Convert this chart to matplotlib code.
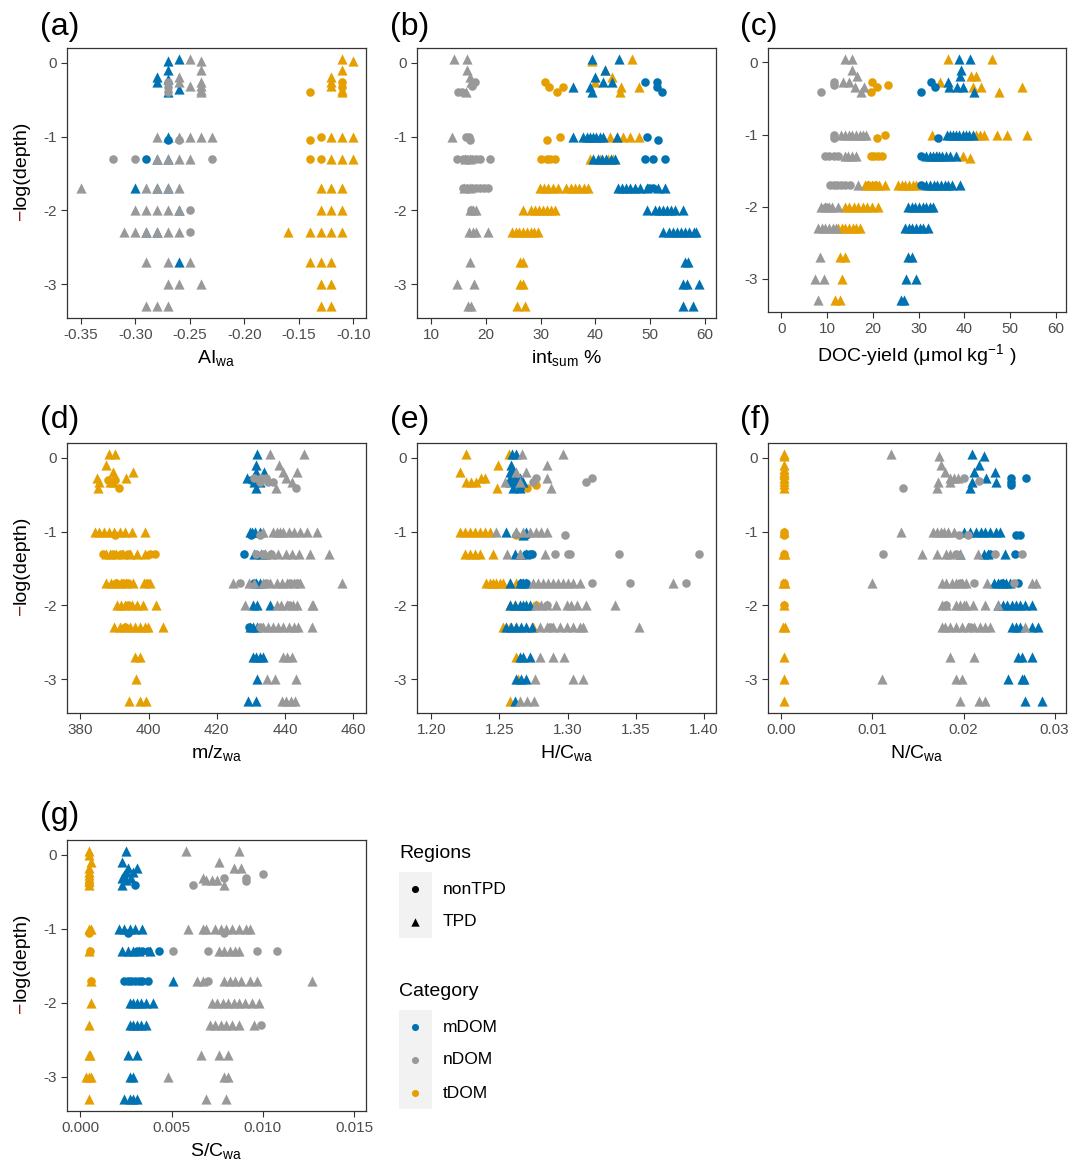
import matplotlib
matplotlib.use("Agg")
import matplotlib.pyplot as plt

plt.rcParams['font.family'] = ['Liberation Sans', 'DejaVu Sans']
plt.rcParams['mathtext.fontset'] = 'custom'
plt.rcParams['mathtext.rm'] = 'Liberation Sans'
plt.rcParams['mathtext.it'] = 'Liberation Sans:italic'
plt.rcParams['mathtext.default'] = 'regular'
plt.rcParams['axes.unicode_minus'] = False

# colours of the categories
BLUE = '#0072B2'
GRAY = '#999999'
ORANGE = '#E69F00'

# ---- data: {-log(depth): [x values]} per category / region ----
# (a) AI_wa
ai_m_tri = {0.02: [-0.27], 0.05: [-0.26], -0.1: [-0.27], -0.19: [-0.28], -0.22: [-0.27], -0.26: [-0.28],
            -0.35: [-0.26], -0.4: [-0.27], -1: [-0.27], -1.3: [-0.28, -0.27], -1.7: [-0.30, -0.28, -0.27],
            -2: [-0.26], -2.3: [-0.29, -0.28], -2.7: [-0.26]}
ai_m_circ = {-1.05: [-0.27], -1.3: [-0.29]}
ai_n_tri = {0.05: [-0.25], 0.02: [-0.24], -0.1: [-0.24], -0.19: [-0.26], -0.26: [-0.26, -0.24],
            -0.31: [-0.25, -0.24], -0.37: [-0.24], -0.4: [-0.24], -1: [-0.28, -0.26, -0.25, -0.24, -0.23],
            -1.3: [-0.28, -0.27, -0.26, -0.25], -1.7: [-0.35, -0.29, -0.28, -0.27, -0.26],
            -2: [-0.30, -0.29, -0.28, -0.27, -0.26], -2.3: [-0.31, -0.30, -0.29, -0.28, -0.27, -0.26],
            -2.7: [-0.29, -0.27, -0.25], -3: [-0.27, -0.26, -0.24], -3.3: [-0.29, -0.28, -0.27]}
ai_n_circ = {-0.26: [-0.27], -0.33: [-0.27], -0.4: [-0.27], -1.05: [-0.26], -1.3: [-0.32, -0.30, -0.23],
             -2: [-0.25], -2.3: [-0.25]}
ai_t_tri = {0.05: [-0.11], 0.02: [-0.10], -0.1: [-0.11], -0.19: [-0.12], -0.26: [-0.12], -0.31: [-0.12],
            -0.37: [-0.11], -0.4: [-0.11], -1: [-0.12, -0.11, -0.10], -1.3: [-0.12, -0.11, -0.10],
            -1.7: [-0.13, -0.12, -0.11], -2: [-0.13, -0.12, -0.11],
            -2.3: [-0.16, -0.14, -0.13, -0.12, -0.11], -2.7: [-0.14, -0.13, -0.12], -3: [-0.13, -0.12],
            -3.3: [-0.13, -0.12]}
ai_t_circ = {-0.26: [-0.11], -0.33: [-0.11], -0.4: [-0.14], -1.05: [-0.14], -1: [-0.13],
             -1.3: [-0.14, -0.13]}

# (b) int_sum %
int_m_tri = {0.05: [39.3, 44.4], -0.1: [41.7], -0.19: [40.0], -0.26: [41.4, 43.1], -0.33: [35.9, 39.0],
             -0.4: [39.3], -1: [35.9, 37.8, 38.4, 39.0, 39.6, 40.2, 40.8, 41.4, 43.9],
             -1.3: [39.6, 40.4, 41.2, 42.0, 42.8, 43.6],
             -1.7: [44.2, 44.9, 45.6, 46.4, 47.2, 48.2, 49.4, 51.5, 52.8],
             -2: [49.5, 50.9, 51.6, 52.3, 53.1, 53.8, 54.5, 56.1],
             -2.3: [52.4, 53.4, 54.2, 55.0, 55.7, 56.4, 57.2, 58.0, 58.5], -2.7: [56.4, 57.0],
             -3: [56.1, 56.7, 59.0], -3.3: [56.1, 57.9]}
int_m_circ = {-0.26: [49.0, 51.3], -0.33: [51.3], -0.4: [52.2], -1: [49.4], -1.05: [51.5],
              -1.3: [49.1, 50.6, 52.8], -1.7: [49.8, 50.6]}
int_n_tri = {0.05: [14.2, 16.6], -0.1: [16.6], -0.19: [17.0], -0.26: [17.3], -0.4: [16.4], -1: [13.8],
             -1.3: [16.2, 17.0], -1.7: [16.0, 17.0], -2: [17.0, 17.6, 18.2], -2.3: [16.9, 17.6, 18.2, 20.3],
             -2.7: [17.1], -3: [14.6, 17.8], -3.3: [16.7, 17.3]}
int_n_circ = {-0.26: [17.9], -0.31: [17.5], -0.4: [14.9, 15.6], -1: [16.4, 16.8], -1.05: [17.0],
              -1.3: [14.7, 15.8, 16.6, 17.4, 18.2, 18.9, 20.8],
              -1.7: [15.8, 16.6, 17.4, 18.2, 18.9, 19.6, 20.4], -2: [17.3]}
int_t_tri = {0.05: [46.7], 0.02: [39.3], -0.1: [41.7], -0.19: [43.1], -0.26: [40.0], -0.33: [44.7, 47.9],
             -0.4: [44.5], -1: [42.7, 43.9, 45.1, 46.3, 48.0], -1.3: [39.0, 40.8, 42.4, 43.2],
             -1.7: [29.8, 30.6, 31.4, 32.2, 33.2, 34.7, 35.5, 36.3, 37.1, 37.9, 38.7],
             -2: [26.8, 28.3, 29.0, 29.7, 30.4, 31.1, 31.8, 32.6],
             -2.3: [24.7, 25.4, 26.1, 26.8, 27.5, 28.2, 28.8, 29.5], -2.7: [26.3, 26.8],
             -3: [26.3, 26.8], -3.3: [25.6, 27.1]}
int_t_circ = {-0.26: [30.8], -0.33: [31.5, 34.1], -0.4: [32.9], -1: [33.5], -1.05: [31.2],
              -1.3: [30.0, 31.1, 31.7, 32.6]}

# (c) DOC-yield
doc_m_tri = {0.05: [38.8, 41.2], -0.1: [39.2], -0.19: [39.0], -0.27: [36.4], -0.34: [36.6, 38.3, 39.7],
             -0.41: [42.1], -1: [36.1, 36.8, 37.5, 38.2, 38.9, 39.6, 40.3, 41.0, 41.9],
             -1.3: [31.7, 32.4, 33.1, 33.8, 34.5, 35.2, 36.0, 36.8, 38.1],
             -1.7: [31.7, 32.5, 33.3, 34.1, 34.9, 35.7, 36.5, 37.3, 39.0],
             -2: [27.7, 28.5, 29.3, 30.1, 30.9, 31.7, 32.5, 33.2],
             -2.3: [27.0, 27.8, 28.6, 29.4, 30.2, 31.0, 32.1], -2.7: [27.7, 28.6], -3: [27.3, 29.5],
             -3.3: [26.2, 26.7]}
doc_m_circ = {-0.27: [32.8], -0.34: [33.5], -0.41: [30.5], -1.05: [34.3], -1.3: [30.6], -1.7: [30.5]}
doc_n_tri = {0.05: [14.0, 15.5], -0.1: [15.5], -0.19: [16.5], -0.27: [13.5, 14.8], -0.34: [16.0, 18.0],
             -0.41: [17.3], -1: [13.1, 13.9, 14.7, 15.5, 16.3, 17.1, 17.9, 18.6],
             -1.3: [13.8, 14.6, 15.4, 16.4], -1.7: [16.8], -2: [8.7, 9.5, 10.3, 11.1, 12.4],
             -2.3: [8.0, 8.8, 9.6, 10.4, 11.2, 12.0], -2.7: [8.5], -3: [7.3, 9.3], -3.3: [8.0]}
doc_n_circ = {-0.27: [11.4], -0.31: [11.4], -0.41: [8.6], -1: [11.4], -1.05: [11.4],
              -1.3: [9.5, 10.5, 11.4, 12.4], -1.7: [10.6, 11.4, 12.2, 13.0, 13.8, 14.9], -2: [9.8]}
doc_t_tri = {0.05: [36.3, 46.1], -0.19: [41.5, 42.6], -0.27: [34.6], -0.34: [41.9, 43.6, 52.6],
             -0.41: [47.5], -1: [33.0, 42.6, 43.4, 44.2, 47.2, 49.2, 53.6], -1.3: [34.0, 39.7],
             -1.33: [41.2],
             -1.7: [18.2, 19.0, 19.8, 20.6, 21.4, 22.6, 25.5, 26.3, 27.1, 27.9, 28.7, 29.5],
             -2: [13.8, 14.8, 15.8, 16.8, 17.8, 18.8, 19.8, 21.1],
             -2.3: [12.4, 13.2, 14.0, 14.8, 15.6, 16.4, 17.1], -2.7: [12.8, 13.8], -3: [13.3],
             -3.3: [11.7, 12.8]}
doc_t_circ = {-0.27: [19.8], -0.31: [23.2], -0.34: [20.9], -0.41: [19.5], -1.05: [20.8], -1: [22.6],
              -1.3: [19.5, 20.3, 21.1, 21.9], -1.7: [19.0, 20.5]}

# (d) m/z_wa
mz_m_tri = {0.05: [431.9], -0.1: [431.6], -0.19: [431.6, 433.8], -0.27: [428.7, 430.5],
            -0.33: [431.0, 432.6], -0.41: [431.6], -1: [429.7, 430.4, 431.2, 432.6],
            -1.3: [431.0, 432.8, 434.2], -1.7: [431.5, 432.5], -2: [430.7, 431.9, 435.5],
            -2.3: [429.7, 430.7, 431.8], -2.7: [430.7, 431.6, 432.5, 433.6], -3: [431.9],
            -3.3: [429.2, 431.6]}
mz_m_circ = {-0.3: [430.0], -1.05: [430.0], -1.3: [428.0], -1.7: [431.0], -2.3: [429.5]}
mz_n_tri = {0.05: [435.7, 445.6], -0.1: [438.2], -0.19: [439.5, 443.4], -0.27: [440.4], -0.33: [442.0],
            -0.41: [437.3],
            -1: [433.5, 436.5, 437.5, 438.5, 439.5, 441.0, 442.5, 444.5, 446.5, 449.2],
            -1.3: [434.0, 436.0, 438.0, 440.4, 442.0, 444.2, 447.3, 453.0],
            -1.7: [424.6, 429.5, 431.0, 433.5, 435.5, 437.5, 439.0, 440.5, 442.5, 444.4, 456.6],
            -2: [428.2, 437.5, 438.8, 440.5, 442.2, 443.5, 447.8, 448.3],
            -2.3: [433.5, 435.0, 436.5, 438.0, 439.5, 441.0, 442.5, 443.9, 447.8],
            -2.7: [439.3, 440.5, 442.0], -3: [434.6, 437.0, 443.1], -3.3: [439.0, 440.3, 441.6, 443.0]}
mz_n_circ = {-0.27: [431.0, 433.0, 434.5], -0.33: [432.5, 435.0, 436.5], -0.41: [443.2], -1.05: [432.6],
             -1.3: [431.5, 433.5, 436.0], -1.7: [426.7, 434.5, 441.5, 443.5], -2: [441.0],
             -2.3: [432.6]}
mz_t_tri = {0.05: [388.4, 390.1], -0.1: [387.4], -0.19: [389.6, 395.5], -0.27: [384.9, 393.5],
            -0.33: [385.5, 388.6, 389.5], -0.41: [385.2],
            -1: [384.2, 385.5, 387.0, 388.5, 390.0, 391.5, 393.0, 395.0, 398.9],
            -1.3: [387.6, 388.6, 390.5, 392.5, 394.5, 396.5, 399.0],
            -1.7: [387.6, 389.0, 390.5, 392.0, 393.5, 395.5, 398.7, 400.3],
            -2: [390.6, 391.8, 393.0, 395.0, 396.5, 398.4, 402.3],
            -2.3: [390.0, 391.5, 393.0, 394.5, 396.0, 397.5, 399.0, 399.9, 404.3],
            -2.7: [395.9, 397.4], -3: [396.2], -3.3: [394.3, 397.4, 399.2]}
mz_t_circ = {-0.3: [388.1, 390.1], -0.41: [391.3], -1.05: [390.1],
             -1.3: [386.5, 389.5, 392.0, 394.0, 400.5, 401.8], -1.7: [390.5, 392.5, 394.0, 399.5],
             -2: [394.0], -2.3: [393.0]}

# (e) H/C_wa
hc_m_tri = {0.05: [1.2595, 1.2619], -0.1: [1.2588], -0.19: [1.2575, 1.26], -0.27: [1.2575, 1.2612, 1.2649],
            -0.33: [1.2575, 1.262, 1.2673], -0.41: [1.26, 1.2649], -1: [1.2551, 1.2624, 1.2698],
            -1.05: [1.2673], -1.3: [1.2612, 1.2649, 1.2698], -1.7: [1.2575, 1.2649, 1.2673, 1.2698],
            -2: [1.2575, 1.2612, 1.2649, 1.2673, 1.2698, 1.2722],
            -2.3: [1.2551, 1.2588, 1.2624, 1.2661, 1.2698, 1.2735], -2.7: [1.2649, 1.2673, 1.2722],
            -3: [1.2624, 1.2661, 1.2698], -3.3: [1.2612]}
hc_m_circ = {-0.41: [1.2649], -1.05: [1.2698], -1.3: [1.2698, 1.2722, 1.2735], -1.7: [1.2661, 1.2698]}
hc_n_tri = {0.05: [1.2668, 1.2967], -0.1: [1.2845], -0.19: [1.262, 1.2698], -0.27: [1.2845],
            -0.33: [1.2539, 1.2649], -0.41: [1.2881],
            -1: [1.2477, 1.2624, 1.2673, 1.2722, 1.2771, 1.2808, 1.2845],
            -1.3: [1.2558, 1.2649, 1.2832],
            -1.7: [1.2747, 1.2783, 1.282, 1.2857, 1.2893, 1.293, 1.2967, 1.3003, 1.304, 1.3089, 1.3775],
            -2: [1.2771, 1.2808, 1.2845, 1.2918, 1.2992, 1.3028, 1.3065, 1.3138, 1.3346],
            -2.3: [1.2796, 1.2845, 1.2894, 1.2943, 1.2992, 1.3041, 1.3089, 1.3114, 1.3525],
            -2.7: [1.28, 1.2889, 1.2972], -3: [1.2759, 1.304, 1.3114], -3.3: [1.2649, 1.2703, 1.2752]}
hc_n_circ = {-0.27: [1.2766, 1.3175], -0.33: [1.2747, 1.3133], -1.05: [1.2984],
             -1.3: [1.2906, 1.3004, 1.3016, 1.3378, 1.3961], -1.7: [1.3175, 1.3457, 1.3868],
             -2: [1.2845], -2.3: [1.2869]}
hc_t_tri = {0.05: [1.2257, 1.257], -0.1: [1.249], -0.19: [1.2208], -0.27: [1.2367, 1.2392],
            -0.33: [1.2257, 1.2294, 1.233], -0.41: [1.2482],
            -1: [1.2208, 1.2245, 1.2282, 1.2318, 1.2355, 1.2392, 1.2428],
            -1.3: [1.2245, 1.2282, 1.2318, 1.2355, 1.245],
            -1.7: [1.2404, 1.2428, 1.2453, 1.2477, 1.2502, 1.2526, 1.2575, 1.262],
            -2: [1.2575, 1.2612, 1.2698], -2.3: [1.2526, 1.2575, 1.2624, 1.2747], -2.7: [1.2624],
            -3: [1.2637], -3.3: [1.258]}
hc_t_circ = {-0.37: [1.2766], -0.41: [1.2703], -1.05: [1.2624], -2: [1.2771]}

# (f) N/C_wa
nc_m_tri = {0.05: [0.0209], 0.02: [0.0222], -0.1: [0.0217], -0.19: [0.0212, 0.0235], -0.27: [0.0225],
            -0.33: [0.0209, 0.0236], -0.41: [0.0207],
            -1: [0.02, 0.0207, 0.0214, 0.0219, 0.0224, 0.0229, 0.0236, 0.024],
            -1.3: [0.0196, 0.0222, 0.0227, 0.0246], -1.7: [0.0233, 0.0238, 0.0243, 0.0247, 0.0251],
            -2: [0.0238, 0.0243, 0.0248, 0.0253, 0.0258, 0.0262, 0.0267, 0.0275],
            -2.3: [0.0253, 0.0258, 0.0262, 0.0275, 0.0282], -2.7: [0.026, 0.0264, 0.0275],
            -3: [0.0249, 0.0264, 0.0266], -3.3: [0.0268, 0.0286]}
nc_m_circ = {-0.27: [0.0252, 0.0269], -0.33: [0.0252], -0.37: [0.0252], -1.05: [0.0258, 0.0262],
             -1.3: [0.0229, 0.0256], -1.7: [0.0242, 0.026]}
nc_n_tri = {0.05: [0.012], 0.02: [0.0173], -0.1: [0.0175], -0.19: [0.018], -0.27: [0.0185, 0.0189, 0.0194],
            -0.33: [0.0172, 0.0185], -0.41: [0.0171],
            -1: [0.0131, 0.0167, 0.0171, 0.0175, 0.0179, 0.0183, 0.0189],
            -1.3: [0.0154, 0.0171, 0.0181, 0.0185, 0.0196, 0.0216],
            -1.7: [0.0099, 0.0176, 0.0181, 0.0187, 0.0192, 0.0198, 0.0203, 0.0226, 0.0275, 0.028],
            -2: [0.0176, 0.0181, 0.0192, 0.0196, 0.02, 0.0203, 0.021, 0.0224, 0.0238],
            -2.3: [0.0176, 0.018, 0.0185, 0.0192, 0.0198, 0.0205, 0.0212, 0.0218, 0.0224, 0.0229, 0.0268],
            -2.7: [0.0185, 0.0212], -3: [0.0111, 0.0192, 0.0198], -3.3: [0.0196, 0.0217, 0.0224]}
nc_n_circ = {-0.27: [0.0201], -0.31: [0.0217], -0.41: [0.0134], -1.05: [0.0195, 0.0205],
             -1.3: [0.0112, 0.0192, 0.0235, 0.0264], -1.7: [0.0196, 0.0212, 0.0255], -2: [0.0181],
             -2.3: [0.0207]}
nc_t_tri = {0.05: [0.0003], 0.02: [0.0003], -0.1: [0.0003], -0.15: [0.0003], -0.19: [0.0003],
            -0.22: [0.0003], -0.27: [0.0003], -0.31: [0.0003], -0.35: [0.0003], -0.41: [0.0003],
            -1: [0.0003], -1.3: [0.0002, 0.0004], -1.7: [0.0002, 0.0004], -2: [0.0003],
            -2.3: [0.0002, 0.0004], -2.7: [0.0003], -3: [0.0003], -3.3: [0.0003]}
nc_t_circ = {-0.27: [0.0003], -1: [0.0003], -1.05: [0.0003], -1.3: [0.0003], -1.7: [0.0003],
             -2: [0.0003]}

# (g) S/C_wa
sc_m_tri = {0.05: [0.0025], -0.1: [0.0023], -0.18: [0.0026, 0.0031], -0.23: [0.0025, 0.0029],
            -0.27: [0.0024], -0.31: [0.0023, 0.0028], -0.34: [0.0025], -0.41: [0.0023],
            -1: [0.0021, 0.0024, 0.0027, 0.003, 0.0034], -1.3: [0.0023, 0.0026, 0.0029, 0.0032, 0.0038],
            -1.7: [0.0051], -2: [0.0027, 0.0029, 0.0031, 0.0033, 0.0036, 0.004],
            -2.3: [0.0027, 0.0029, 0.0031, 0.0033, 0.0036], -2.7: [0.0026, 0.0031],
            -3: [0.0027, 0.0029], -3.3: [0.0024, 0.0027, 0.0029, 0.0031]}
sc_m_circ = {-0.41: [0.003], -1.05: [0.0026], -1.3: [0.0031, 0.0034, 0.0037, 0.0043],
             -1.7: [0.0024, 0.0026, 0.0028, 0.003, 0.0032, 0.0034, 0.0037]}
sc_n_tri = {0.05: [0.0058, 0.0087], -0.1: [0.0076], -0.18: [0.0084, 0.0088], -0.31: [0.0067],
            -0.34: [0.0069, 0.0072, 0.0075], -0.41: [0.0079],
            -1: [0.0059, 0.0067, 0.0069, 0.0074, 0.0077, 0.008, 0.0083, 0.0087, 0.0091, 0.0093],
            -1.3: [0.0076, 0.0079, 0.0082, 0.0085, 0.0087],
            -1.7: [0.0064, 0.0067, 0.0079, 0.0082, 0.0085, 0.0088, 0.0093, 0.0097, 0.0127],
            -2: [0.0072, 0.0075, 0.0078, 0.0081, 0.0084, 0.0087, 0.009, 0.0094, 0.0098],
            -2.3: [0.0071, 0.0074, 0.0077, 0.008, 0.0083, 0.0087, 0.0095],
            -2.7: [0.0066, 0.0076, 0.0081], -3: [0.0048, 0.0079, 0.0081], -3.3: [0.0069, 0.008]}
sc_n_circ = {-0.26: [0.01], -0.31: [0.0079, 0.0091], -0.36: [0.0091], -0.41: [0.0062], -1.05: [0.0079],
             -1.3: [0.0051, 0.007, 0.0097, 0.0108], -1.7: [0.007], -2.3: [0.0099]}
sc_t_tri = {0.05: [0.0005], 0.0: [0.0005], -0.1: [0.0006], -0.18: [0.0005], -0.23: [0.0005],
            -0.27: [0.0005], -0.31: [0.0005], -0.35: [0.0005], -0.41: [0.0005], -1: [0.0005, 0.0006],
            -1.3: [0.0005], -1.7: [0.0006], -2: [0.0006], -2.3: [0.0005], -2.7: [0.00045, 0.00055],
            -3: [0.0003, 0.0005, 0.0006], -3.3: [0.0005]}
sc_t_circ = {-0.41: [0.0005], -1.05: [0.0005], -1.3: [0.00055], -1.7: [0.0006]}

W, H = 1074, 1167


def rect(l, t, r, b):
    return [l / W, 1 - b / H, (r - l) / W, (b - t) / H]


def points(d):
    xs, ys = [], []
    for y, vals in d.items():
        for v in vals:
            xs.append(v)
            ys.append(y)
    return xs, ys


def panel(box, tag, tagpos, series, xlim, xticks, xlabels, xlabel, ylab):
    ax = fig.add_axes(rect(*box))
    for d, col, mk in series:
        xs, ys = points(d)
        if mk == '^':
            ax.scatter(xs, ys, s=54, marker='^', color=col, linewidths=0, zorder=3)
        else:
            ax.scatter(xs, ys, s=38, marker='o', color=col, linewidths=0, zorder=3)
    ax.set_xlim(*xlim)
    ax.set_ylim(-3.46, 0.2)
    ax.set_xticks(xticks)
    ax.set_xticklabels(xlabels)
    ax.set_yticks([0, -1, -2, -3])
    ax.set_yticklabels(['0', '-1', '-2', '-3'])
    ax.tick_params(length=4, width=0.8, color='#333333', labelcolor='#4D4D4D', labelsize=11, pad=3.5)
    for s in ax.spines.values():
        s.set_color('#333333')
        s.set_linewidth(0.9)
    ax.set_xlabel(xlabel, fontsize=14, labelpad=4)
    if ylab:
        ax.text(-0.152, 0.405, '\u2212', transform=ax.transAxes, rotation=90, fontsize=14,
                color='#8B1A1A', ha='center', va='top')
        ax.text(-0.152, 0.405, 'log(depth)', transform=ax.transAxes, rotation=90, fontsize=14,
                color='black', ha='center', va='bottom')
    fig.text(tagpos[0] / W, 1 - tagpos[1] / H, tag, fontsize=23, ha='left', va='center')
    return ax


def series_of(t_tri, t_circ, m_tri, m_circ, n_tri, n_circ):
    return [(t_tri, ORANGE, '^'), (t_circ, ORANGE, 'o'),
            (m_tri, BLUE, '^'), (m_circ, BLUE, 'o'),
            (n_tri, GRAY, '^'), (n_circ, GRAY, 'o')]


fig = plt.figure(figsize=(W / 100, H / 100), dpi=100)

panel((67, 48, 366, 318), '(a)', (40, 27),
      series_of(ai_t_tri, ai_t_circ, ai_m_tri, ai_m_circ, ai_n_tri, ai_n_circ),
      (-0.3626, -0.0883), [-0.35, -0.30, -0.25, -0.20, -0.15, -0.10],
      ['-0.35', '-0.30', '-0.25', '-0.20', '-0.15', '-0.10'], 'AI$_{wa}$', True)
panel((417, 48, 716, 318), '(b)', (390, 27),
      series_of(int_t_tri, int_t_circ, int_m_tri, int_m_circ, int_n_tri, int_n_circ),
      (7.37, 62.08), [10, 20, 30, 40, 50, 60], ['10', '20', '30', '40', '50', '60'],
      'int$_{sum}$ %', False)
panel((768, 48, 1066, 312), '(c)', (740, 27),
      series_of(doc_t_tri, doc_t_circ, doc_m_tri, doc_m_circ, doc_n_tri, doc_n_circ),
      (-2.92, 62.19), [0, 10, 20, 30, 40, 50, 60], ['0', '10', '20', '30', '40', '50', '60'],
      'DOC-yield (\u03bcmol kg$^{-1}$ )', False)
panel((67, 443, 366, 713), '(d)', (40, 420),
      series_of(mz_t_tri, mz_t_circ, mz_m_tri, mz_m_circ, mz_n_tri, mz_n_circ),
      (376.09, 463.7), [380, 400, 420, 440, 460], ['380', '400', '420', '440', '460'],
      'm/z$_{wa}$', True)
panel((417, 443, 716, 713), '(e)', (390, 420),
      series_of(hc_t_tri, hc_t_circ, hc_m_tri, hc_m_circ, hc_n_tri, hc_n_circ),
      (1.1895, 1.4088), [1.20, 1.25, 1.30, 1.35, 1.40], ['1.20', '1.25', '1.30', '1.35', '1.40'],
      'H/C$_{wa}$', False)
panel((768, 443, 1066, 713), '(f)', (740, 420),
      series_of(nc_t_tri, nc_t_circ, nc_m_tri, nc_m_circ, nc_n_tri, nc_n_circ),
      (-0.00147, 0.03125), [0, 0.01, 0.02, 0.03], ['0.00', '0.01', '0.02', '0.03'],
      'N/C$_{wa}$', False)
panel((67, 840, 366, 1111), '(g)', (40, 816),
      series_of(sc_t_tri, sc_t_circ, sc_m_tri, sc_m_circ, sc_n_tri, sc_n_circ),
      (-0.00073, 0.01566), [0, 0.005, 0.010, 0.015], ['0.000', '0.005', '0.010', '0.015'],
      'S/C$_{wa}$', True)

# legend drawn in pixel coordinates
lg = fig.add_axes([0, 0, 1, 1], zorder=-1)
lg.set_xlim(0, W)
lg.set_ylim(H, 0)
lg.axis('off')
lg.add_patch(plt.Rectangle((399, 872), 33, 66, color='#F2F2F2', lw=0))
lg.add_patch(plt.Rectangle((399, 1010), 33, 99, color='#F2F2F2', lw=0))
lg.text(399, 853, 'Regions', fontsize=14, va='center', ha='left')
lg.text(399, 991, 'Category', fontsize=14, va='center', ha='left')
for y, mk, lab in [(889, 'o', 'nonTPD'), (922, '^', 'TPD')]:
    lg.scatter([415], [y], marker=mk, s=26 if mk == 'o' else 36, color='black', linewidths=0)
    lg.text(443, y, lab, fontsize=12.5, va='center', ha='left')
for y, col, lab in [(1027, BLUE, 'mDOM'), (1060, GRAY, 'nDOM'), (1093, ORANGE, 'tDOM')]:
    lg.scatter([415], [y], marker='o', s=26, color=col, linewidths=0)
    lg.text(443, y, lab, fontsize=12.5, va='center', ha='left')

fig.savefig('out.png', dpi=100)
